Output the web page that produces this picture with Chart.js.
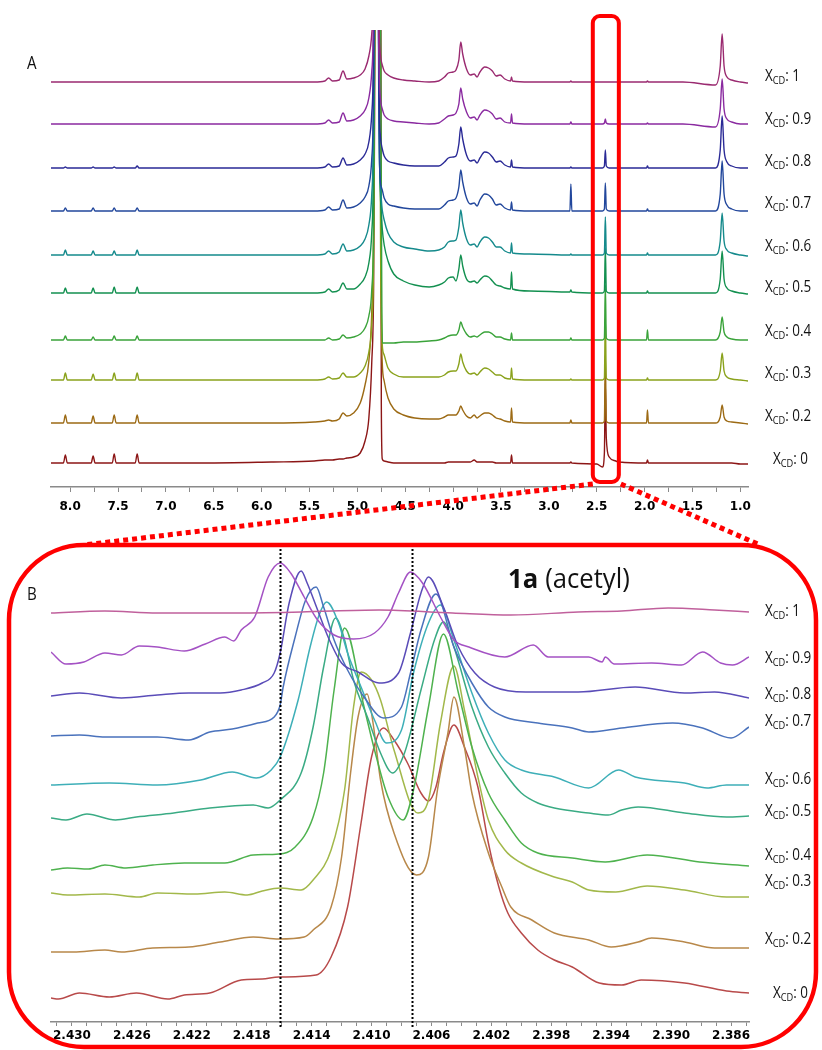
<!DOCTYPE html>
<html><head><meta charset="utf-8">
<script src="https://cdn.jsdelivr.net/npm/chart.js@4.4.0/dist/chart.umd.min.js"></script>
<style>
html,body{margin:0;padding:0;background:#fff;}
#wrap{position:relative;width:822px;height:1050px;overflow:hidden;background:#fff;}
canvas{position:absolute;left:0;}
#cA{top:0;}
#cB{top:530px;}
</style></head><body>
<div id="wrap"><canvas id="cA" width="822" height="560"></canvas><canvas id="cB" width="822" height="520"></canvas></div>
<script>
// ---------- DATA ----------
const xcdValues = ['1','0.9','0.8','0.7','0.6','0.5','0.4','0.3','0.2','0'];

// Panel A: chemical shift grid (ppm) shared by all traces
const ppmA = [8.20, 8.07, 8.05, 8.03, 7.78, 7.76, 7.74, 7.56, 7.54, 7.52, 7.32, 7.30, 7.28,
  6.60, 5.90, 5.45, 5.34, 5.30, 5.26, 5.19, 5.15, 5.11,
  5.04, 4.97, 4.92, 4.88, 4.85, 4.83, 4.82, 4.81, 4.80, 4.79, 4.78, 4.77, 4.76, 4.75,
  4.74, 4.72, 4.68, 4.62, 4.52, 4.40, 4.25, 4.15,
  4.09, 4.05, 4.00, 3.97, 3.94, 3.92, 3.90, 3.86, 3.82, 3.78, 3.75, 3.72, 3.67, 3.63, 3.59, 3.55, 3.51, 3.46, 3.40, 3.39, 3.38, 3.20,
  2.78, 2.77, 2.76, 2.50, 2.44, 2.42, 2.41, 2.40, 2.37, 2.30, 2.28, 2.27, 2.26,
  1.98, 1.97, 1.96, 1.60, 1.26, 1.21, 1.19, 1.17, 1.14, 1.09, 1.00, 0.92];

// Panel A intensities above each trace's baseline (a.u.)
const hA_1 = [0,0,0,0,0,0,0,0,0,0,0,0,0,
  0,0,0,1,4,1,2,11,3,
  4,7,13,26,48,120,400,900,900,300,90,45,28,21,
  17,11,7,4,2,1,0,1,
  5,9,10,12,22,40,28,13,7,8,5,10,15,14,11,6,7,3,1,5,1,0,
  0,1,0,0,0,0,0,0,0,0,0,7,0,
  0,1,0,0,-3,16,48,16,5,2,0,-1];
const hA_09 = [0,0,0,0,0,0,0,0,0,0,0,0,0,
  0,0,0,1,4,1,2,11,3,
  4,8,14,26,52,130,420,900,900,320,100,45,26,19,
  15,9,5,3,2,1,0,1,
  5,8,9,11,20,36,25,12,6,7,4,9,14,13,10,5,6,2,1,10,1,0,
  0,2,0,0,0,1,5,1,0,0,0,7,0,
  0,1,0,0,-3,15,45,15,5,2,0,0];
const hA_08 = [0,0,1,0,0,1,0,0,1,0,0,2,0,
  0,0,0,1,4,1,2,10,3,
  4,8,14,26,54,140,450,900,900,900,200,60,32,24,
  19,12,7,5,3,2,2,2,
  6,10,11,12,24,41,29,13,7,8,5,10,16,15,11,6,7,3,1,8,1,0,
  0,1,0,0,0,2,18,2,0,0,0,12,0,
  0,2,0,0,0,18,52,18,6,2,0,0];
const hA_07 = [0,0,3,0,0,3,0,0,3,0,0,3,0,
  0,0,0,1,4,1,2,11,3,
  4,8,14,25,52,140,450,900,900,900,200,60,30,24,
  21,13,7,5,3,2,2,2,
  6,10,11,13,24,41,29,13,7,8,5,11,17,16,12,6,7,3,1,9,1,0,
  0,27,0,0,0,2,28,2,0,0,0,10,0,
  0,2,0,0,0,17,50,17,6,2,0,0];
const hA_06 = [0,0,5,0,0,4,0,0,4,0,0,5,0,
  0,0,0,1,4,1,3,11,4,
  5,9,16,30,60,160,500,900,900,900,300,110,70,55,
  45,35,22,13,8,6,4,5,
  8,13,14,15,28,45,32,16,10,11,8,13,18,17,13,8,8,4,2,12,2,1,
  0,1,0,0,0,2,38,2,0,0,0,17,0,
  0,2,0,0,0,14,42,14,5,2,0,-1];
const hA_05 = [0,0,5,0,0,5,0,0,6,0,0,6,0,
  0,0,0,1,4,1,3,10,4,
  4,9,16,30,60,160,500,900,900,900,350,150,100,80,
  64,48,32,19,12,8,6,8,
  11,15,16,12,24,38,27,14,11,12,10,13,17,16,12,8,7,5,4,21,4,2,
  1,3,1,0,0,2,45,2,0,0,0,28,0,
  0,2,0,0,0,14,42,14,5,2,0,-1];
const hA_04 = [0,0,4,0,0,3,0,0,4,0,0,4,0,
  0,0,0,0,2,0,1,5,2,
  3,6,12,24,50,120,300,700,900,900,900,900,400,150,
  -3,-3,-3,-3,-2,-2,-1,0,
  2,4,5,5,10,18,13,6,3,4,3,5,8,8,6,3,3,1,0,7,0,0,
  0,2,0,0,0,2,55,2,0,0,0,27,0,
  0,10,0,0,0,8,23,8,3,1,0,0];
const hA_03 = [0,0,7,0,0,6,0,0,7,0,0,7,0,
  0,0,0,1,3,1,2,7,3,
  3,7,14,28,55,130,350,700,900,900,900,900,200,70,
  35,25,12,6,3,3,3,3,
  5,8,9,9,16,26,18,9,6,7,5,8,12,11,8,5,5,2,1,12,1,0,
  0,1,0,0,0,2,62,2,0,0,0,10,0,
  0,2,0,0,0,9,27,9,3,1,0,-1];
const hA_02 = [0,0,8,0,0,7,0,0,8,0,0,8,0,
  0,0,1,2,3,2,4,10,7,
  10,20,38,62,110,200,400,700,900,900,900,900,300,110,
  60,42,25,14,8,5,4,4,
  6,8,8,8,12,17,13,7,5,8,5,7,10,10,8,5,4,2,1,15,1,0,
  0,3,0,0,0,2,68,2,0,0,0,38,0,
  0,13,0,0,0,6,18,6,2,1,0,-1];
const hA_0 = [0,0,8,0,0,7,0,0,9,0,0,9,0,
  0,1,2,3,3,3,4,4,5,
  6,10,22,45,100,180,350,600,900,900,900,900,900,60,
  4,2,1,0,0,0,0,0,
  0,1,1,1,1,1,1,1,1,3,1,1,1,1,1,0,0,0,0,8,0,0,
  0,1,0,-1,-4,10,80,25,6,2,1,21,1,
  0,3,0,0,0,0,0,0,0,0,-1,-1];
const baseA = [405, 363, 319, 276, 232, 194, 147, 107, 64, 24];

// Panel B: acetyl doublet region (ppm, intensity above baseline)
const ppmB_1 = [2.4314, 2.4278, 2.4243, 2.4193, 2.4147, 2.4095, 2.4046, 2.4007, 2.3962, 2.3933, 2.3902, 2.3871, 2.3848];
const hB_1 = [-1, 1, -1, -1, 0, 2, -1, -3, 0, 1, 4, 2, 0];
const ppmB_09 = [2.4314, 2.4304, 2.4292, 2.4278, 2.4267, 2.4255, 2.4243, 2.4225, 2.4211, 2.4198, 2.4192, 2.4187, 2.4178, 2.4169, 2.4161, 2.4154, 2.4145, 2.4136, 2.4125, 2.4112, 2.4098, 2.4089, 2.4082, 2.4074, 2.4066, 2.4054, 2.4045, 2.4035, 2.4011, 2.3992, 2.3982, 2.3955, 2.3946, 2.3944, 2.3938, 2.3913, 2.3893, 2.3879, 2.3867, 2.3859, 2.3848];
const hB_09 = [6, -6, -4, 5, 3, 12, 11, 7, 14, 21, 17, 28, 41, 81, 95, 85, 61, 38, 23, 19, 25, 41, 65, 86, 75, 41, 18, 11, 1, 13, 1, 1, -4, 1, -6, -5, -7, 6, -5, -7, 1];
const ppmB_08 = [2.4314, 2.4295, 2.4267, 2.4243, 2.4222, 2.4201, 2.4187, 2.4173, 2.4165, 2.4161, 2.4155, 2.4147, 2.4143, 2.4136, 2.4129, 2.4120, 2.4109, 2.4095, 2.4082, 2.4074, 2.4067, 2.4062, 2.4052, 2.4042, 2.4031, 2.4018, 2.3997, 2.3962, 2.3924, 2.3891, 2.3871, 2.3848];
const hB_08 = [-1, 2, -3, 0, 2, 2, 5, 12, 22, 42, 92, 124, 112, 85, 58, 32, 23, 12, 22, 62, 102, 118, 88, 48, 22, 8, 3, 3, 8, 2, 3, -3];
const ppmB_07 = [2.4314, 2.4295, 2.4278, 2.4243, 2.4222, 2.4208, 2.4193, 2.4176, 2.4165, 2.4161, 2.4159, 2.4151, 2.4144, 2.4137, 2.4132, 2.4125, 2.4116, 2.4105, 2.4092, 2.4080, 2.4074, 2.4067, 2.4057, 2.4045, 2.4033, 2.4022, 2.4011, 2.3989, 2.3966, 2.3955, 2.3933, 2.3899, 2.3879, 2.3860, 2.3848];
const hB_07 = [-1, 0, -2, -2, -5, 3, 6, 12, 18, 30, 48, 98, 135, 148, 128, 95, 65, 38, 17, 28, 62, 105, 141, 88, 52, 28, 18, 12, 7, 3, 7, 12, 7, -3, 8];
const ppmB_06 = [2.4314, 2.4275, 2.4243, 2.4214, 2.4193, 2.4177, 2.4167, 2.4161, 2.4149, 2.4141, 2.4135, 2.4130, 2.4122, 2.4116, 2.4107, 2.4098, 2.4090, 2.4080, 2.4072, 2.4062, 2.4054, 2.4045, 2.4033, 2.4022, 2.4011, 2.4000, 2.3978, 2.3955, 2.3935, 2.3924, 2.3891, 2.3876, 2.3863, 2.3848];
const hB_06 = [0, 2, 0, 5, 13, 7, 15, 28, 85, 138, 170, 183, 162, 132, 98, 65, 42, 55, 112, 162, 180, 145, 92, 52, 25, 15, 8, -3, 15, 8, 2, -3, 0, 0];
const ppmB_05 = [2.4314, 2.4304, 2.4290, 2.4271, 2.4257, 2.4232, 2.4208, 2.4179, 2.4169, 2.4161, 2.4147, 2.4139, 2.4132, 2.4124, 2.4118, 2.4112, 2.4102, 2.4094, 2.4086, 2.4078, 2.4067, 2.4058, 2.4052, 2.4045, 2.4033, 2.4022, 2.4011, 2.4000, 2.3989, 2.3978, 2.3955, 2.3942, 2.3933, 2.3922, 2.3891, 2.3863, 2.3848];
const hB_05 = [-1, -3, 3, -3, 0, 4, 9, 12, 9, 17, 44, 90, 150, 199, 177, 137, 97, 64, 44, 64, 127, 177, 195, 170, 110, 70, 44, 24, 14, 9, 4, 2, 7, 10, 4, 0, 1];
const ppmB_04 = [2.4314, 2.4303, 2.4289, 2.4278, 2.4264, 2.4246, 2.4225, 2.4198, 2.4179, 2.4162, 2.4151, 2.4139, 2.4132, 2.4125, 2.4118, 2.4105, 2.4098, 2.4089, 2.4079, 2.4072, 2.4062, 2.4052, 2.4042, 2.4033, 2.4022, 2.4011, 2.4000, 2.3989, 2.3966, 2.3944, 2.3916, 2.3881, 2.3848];
const hB_04 = [-4, -2, -3, 1, -2, 1, 3, 3, 11, 12, 19, 49, 93, 176, 238, 159, 116, 69, 46, 76, 159, 232, 173, 119, 73, 46, 23, 13, 8, 4, 11, 4, 0];
const ppmB_03 = [2.4314, 2.4303, 2.4278, 2.4255, 2.4243, 2.4218, 2.4198, 2.4183, 2.4173, 2.4161, 2.4147, 2.4139, 2.4127, 2.4118, 2.4112, 2.4107, 2.4100, 2.4094, 2.4085, 2.4069, 2.4062, 2.4054, 2.4045, 2.4038, 2.4029, 2.4022, 2.4011, 2.4000, 2.3978, 2.3966, 2.3955, 2.3937, 2.3916, 2.3891, 2.3863, 2.3848];
const hB_03 = [1, -1, 0, -3, 1, 0, 2, -1, 3, 6, 4, 14, 44, 104, 187, 222, 214, 194, 144, 81, 94, 171, 228, 184, 117, 74, 44, 31, 17, 12, 4, 2, 8, 4, -3, -3];
const ppmB_02 = [2.4314, 2.4299, 2.4278, 2.4267, 2.4246, 2.4222, 2.4201, 2.4179, 2.4162, 2.4145, 2.4139, 2.4127, 2.4120, 2.4114, 2.4109, 2.4103, 2.4099, 2.4094, 2.4085, 2.4070, 2.4062, 2.4056, 2.4049, 2.4045, 2.4038, 2.4033, 2.4022, 2.4013, 2.4007, 2.3993, 2.3978, 2.3955, 2.3940, 2.3922, 2.3913, 2.3891, 2.3871, 2.3848];
const hB_02 = [-2, -2, 0, -2, 2, 3, 8, 13, 11, 13, 20, 43, 93, 177, 233, 256, 227, 170, 117, 75, 93, 160, 217, 253, 203, 157, 97, 63, 43, 30, 17, 10, 3, 8, 12, 8, 2, 2];
const ppmB_0 = [2.4314, 2.4309, 2.4295, 2.4275, 2.4257, 2.4236, 2.4225, 2.4208, 2.4187, 2.4173, 2.4162, 2.4137, 2.4127, 2.4116, 2.4107, 2.4100, 2.4092, 2.4085, 2.4076, 2.4067, 2.4062, 2.4057, 2.4052, 2.4045, 2.4038, 2.4029, 2.4022, 2.4015, 2.4009, 2.4000, 2.3989, 2.3978, 2.3966, 2.3948, 2.3933, 2.3920, 2.3891, 2.3863, 2.3848];
const hB_0 = [-1, -2, 4, 0, 4, -2, 2, 4, 17, 18, 20, 22, 40, 90, 174, 240, 269, 257, 234, 204, 196, 210, 244, 272, 250, 210, 154, 110, 84, 64, 47, 37, 30, 14, 12, 17, 14, 6, 4];
const baseB = [410, 364, 327, 287, 237, 205, 156, 128, 72, 25];

const ticksMajorA = [8.0, 7.5, 7.0, 6.5, 6.0, 5.5, 5.0, 4.5, 4.0, 3.5, 3.0, 2.5, 2.0, 1.5, 1.0];
const ticksMajorB = [2.430, 2.426, 2.422, 2.418, 2.414, 2.410, 2.406, 2.402, 2.398, 2.394, 2.390, 2.386];
const markerPpmB = [2.4161, 2.4073];
const zoomWindowA = [2.541, 2.269];

// ---------- STYLE ----------
const colorsA = ['#9a2a70', '#8a2aa0', '#2a2a96', '#22479c', '#158a8c', '#139050', '#3aa33a', '#8aa21c', '#9c6a14', '#8c1616'];
const colorsB = ['#c0609c', '#a452c4', '#5a4cb8', '#4a72bc', '#3eafb8', '#3aab84', '#4eb24e', '#a2b84a', '#b8884a', '#b84a4a'];
const labelYA = [75, 118, 160, 202, 245, 286, 330, 372, 415, 458];
const labelYB = [610, 657, 693, 720, 778, 810, 854, 880, 938, 992];
const B_TOP = 530;
const FONT = '"Open Sans", "Noto Sans", sans-serif';
const NARROW = 0.84;

const hA = [hA_1, hA_09, hA_08, hA_07, hA_06, hA_05, hA_04, hA_03, hA_02, hA_0];
const ppmB = [ppmB_1, ppmB_09, ppmB_08, ppmB_07, ppmB_06, ppmB_05, ppmB_04, ppmB_03, ppmB_02, ppmB_0];
const hB = [hB_1, hB_09, hB_08, hB_07, hB_06, hB_05, hB_04, hB_03, hB_02, hB_0];

function drawXcd(ctx, x, cy, val) {
  ctx.save();
  ctx.fillStyle = '#111';
  ctx.textBaseline = 'alphabetic';
  ctx.textAlign = 'left';
  const base = cy + 6;
  ctx.translate(x, base);
  ctx.scale(NARROW, 1);
  ctx.font = '16px ' + FONT;
  ctx.fillText('X', 0, 0);
  let w = ctx.measureText('X').width;
  ctx.font = '11px ' + FONT;
  ctx.fillText('CD', w, 3);
  w += ctx.measureText('CD').width;
  ctx.font = '16px ' + FONT;
  ctx.fillText(': ' + val, w, 0);
  ctx.restore();
}

function narrowText(ctx, txt, x, y, sx) {
  const s = sx || NARROW;
  ctx.save();
  ctx.translate(x, y);
  ctx.scale(s, 1);
  ctx.fillText(txt, 0, 0);
  const w = ctx.measureText(txt).width * s;
  ctx.restore();
  return w;
}

function rrect(ctx, x, y, w, h, r) {
  ctx.beginPath();
  ctx.moveTo(x + r, y);
  ctx.lineTo(x + w - r, y);
  ctx.arcTo(x + w, y, x + w, y + r, r);
  ctx.lineTo(x + w, y + h - r);
  ctx.arcTo(x + w, y + h, x + w - r, y + h, r);
  ctx.lineTo(x + r, y + h);
  ctx.arcTo(x, y + h, x, y + h - r, r);
  ctx.lineTo(x, y + r);
  ctx.arcTo(x, y, x + r, y, r);
  ctx.closePath();
}

const decorA = {
  id: 'decorA',
  afterDraw(chart) {
    const ctx = chart.ctx, xs = chart.scales.x;
    ctx.save();
    ctx.fillStyle = '#111';
    ctx.font = '18px ' + FONT;
    narrowText(ctx, 'A', 27, 69);
    xcdValues.forEach((v, k) => drawXcd(ctx, v === '0' ? 773 : 765, labelYA[k], v));
    // red box around the acetyl window
    const x1 = xs.getPixelForValue(zoomWindowA[0]);
    const x2 = xs.getPixelForValue(zoomWindowA[1]);
    ctx.strokeStyle = '#ff0000';
    ctx.lineWidth = 4;
    rrect(ctx, x1, 16, x2 - x1, 466, 7);
    ctx.stroke();
    // dotted connectors
    ctx.setLineDash([5, 4]);
    ctx.lineWidth = 5;
    ctx.beginPath();
    ctx.moveTo(x1, 484); ctx.lineTo(84, 545);
    ctx.moveTo(x2 + 2, 484); ctx.lineTo(760, 545);
    ctx.stroke();
    ctx.restore();
  }
};

const decorB = {
  id: 'decorB',
  afterDatasetsDraw(chart) {
    const ctx = chart.ctx, xs = chart.scales.x;
    ctx.save();
    ctx.strokeStyle = '#000';
    ctx.lineWidth = 2;
    ctx.setLineDash([2, 2]);
    markerPpmB.forEach(p => {
      const x = Math.round(xs.getPixelForValue(p)) + 0.5;
      ctx.beginPath();
      ctx.moveTo(x, 545 - B_TOP);
      ctx.lineTo(x, 1027 - B_TOP);
      ctx.stroke();
    });
    ctx.restore();
  },
  afterDraw(chart) {
    const ctx = chart.ctx;
    ctx.save();
    ctx.fillStyle = '#111';
    ctx.font = '18px ' + FONT;
    narrowText(ctx, 'B', 27, 600 - B_TOP);
    xcdValues.forEach((v, k) => drawXcd(ctx, v === '0' ? 773 : 765, labelYB[k] - B_TOP, v));
    ctx.font = 'bold 27px ' + FONT;
    const w = narrowText(ctx, '1a', 508, 588 - B_TOP, 0.95);
    ctx.font = '27px ' + FONT;
    narrowText(ctx, '(acetyl)', 508 + w + 7, 588 - B_TOP, 0.95);
    ctx.strokeStyle = '#ff0000';
    ctx.lineWidth = 4.5;
    rrect(ctx, 9, 545 - B_TOP, 807, 502, 75);
    ctx.stroke();
    ctx.restore();
  }
};

function makeTicks(minorStep, lo, hi) {
  const vals = [];
  const n = Math.round((hi - lo) / minorStep);
  for (let i = 0; i <= n; i++) vals.push(+(lo + i * minorStep).toFixed(4));
  return vals;
}

function axisX(min, max, majors, minorStep, lo, hi, digits, pad, tl) {
  return {
    type: 'linear', reverse: true, min: min, max: max,
    afterBuildTicks(scale) {
      scale.ticks = makeTicks(minorStep, lo, hi).map(v => ({ value: v }));
    },
    ticks: {
      autoSkip: false, maxRotation: 0, minRotation: 0, padding: pad, color: '#000',
      font: { family: 'DejaVu Sans', weight: 'bold', size: 12 },
      callback(value) {
        const m = majors.find(t => Math.abs(t - value) < 1e-6);
        return m !== undefined ? m.toFixed(digits) : '';
      }
    },
    grid: { display: true, drawOnChartArea: false, drawTicks: true, tickLength: tl, color: '#8a8a8a', lineWidth: 1 },
    border: { display: true, color: '#8a8a8a', width: 1.5 }
  };
}

const chartA = new Chart(document.getElementById('cA'), {
  type: 'line',
  data: {
    datasets: xcdValues.map((v, k) => ({
      label: 'XCD: ' + v,
      data: ppmA.map((p, i) => ({ x: p, y: baseA[k] + hA[k][i] })),
      borderColor: colorsA[k], borderWidth: 1.4, pointRadius: 0, fill: false,
      cubicInterpolationMode: 'monotone'
    }))
  },
  options: {
    responsive: false, animation: false,
    layout: { padding: { left: 51, right: 74, top: 30, bottom: 45 } },
    plugins: { legend: { display: false }, tooltip: { enabled: false } },
    scales: {
      x: axisX(0.92, 8.2, ticksMajorA, 0.25, 1.0, 8.0, 1, 8, 5),
      y: { display: false, min: 0, max: 457 }
    }
  },
  plugins: [decorA]
});

const chartB = new Chart(document.getElementById('cB'), {
  type: 'line',
  data: {
    datasets: xcdValues.map((v, k) => ({
      label: 'XCD: ' + v,
      data: ppmB[k].map((p, i) => ({ x: p, y: baseB[k] + hB[k][i] })),
      borderColor: colorsB[k], borderWidth: 1.5, pointRadius: 0, fill: false,
      cubicInterpolationMode: 'monotone'
    }))
  },
  options: {
    responsive: false, animation: false,
    layout: { padding: { left: 51, right: 73, top: 15, bottom: 5 } },
    plugins: { legend: { display: false }, tooltip: { enabled: false } },
    scales: {
      x: axisX(2.3848, 2.4314, ticksMajorB, 0.001, 2.385, 2.431, 3, 3, 4),
      y: { display: false, min: 0, max: 477 }
    }
  },
  plugins: [decorB]
});

function fitBottom(chart, target) {
  for (let i = 0; i < 4; i++) {
    const d = chart.chartArea.bottom - target;
    if (Math.abs(d) < 0.05) break;
    chart.options.layout.padding.bottom += d;
    chart.update('none');
  }
}
fitBottom(chartA, 487);
fitBottom(chartB, 1022 - B_TOP);
</script>
</body></html>
